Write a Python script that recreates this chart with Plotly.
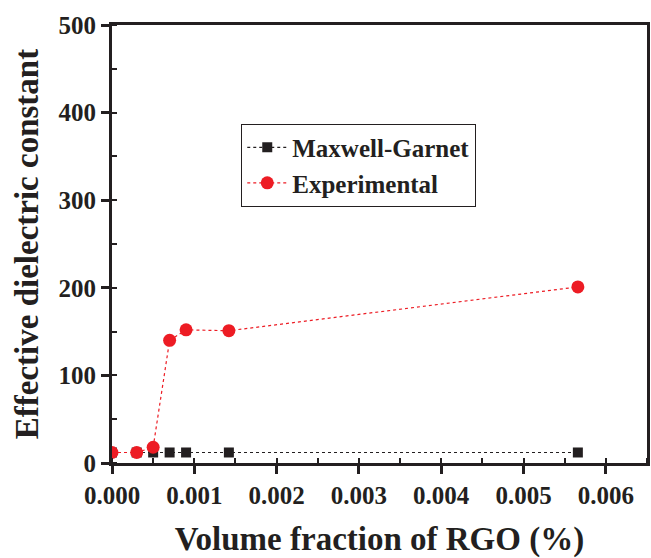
import plotly.graph_objects as go

# Volume fraction of RGO (%) and effective dielectric constant
vol_fraction = [0.0, 0.0003, 0.0005, 0.0007, 0.0009, 0.00142, 0.00566]
maxwell_garnet = [12, 12, 12, 12, 12, 12, 12]
experimental = [12, 12, 18, 140, 152, 151, 201]

x_ticks = [0.0, 0.001, 0.002, 0.003, 0.004, 0.005, 0.006]
x_ticklabels = ["0.000", "0.001", "0.002", "0.003", "0.004", "0.005", "0.006"]
y_ticks = [0, 100, 200, 300, 400, 500]
y_ticklabels = ["0", "100", "200", "300", "400", "500"]

BLACK = "#231f20"
RED = "#ed1c24"
FONT = "Liberation Serif"


def bold(labels):
    return ["<b>%s</b>" % s for s in labels]


fig = go.Figure()
fig.add_trace(go.Scatter(
    x=vol_fraction, y=maxwell_garnet, name="<b>Maxwell-Garnet</b>",
    mode="lines+markers",
    line=dict(color=BLACK, width=1.2, dash="dot"),
    marker=dict(symbol="square", size=10, color=BLACK),
))
fig.add_trace(go.Scatter(
    x=vol_fraction, y=experimental, name="<b>Experimental</b>",
    mode="lines+markers",
    line=dict(color=RED, width=1.2, dash="dot"),
    marker=dict(symbol="circle", size=13, color=RED),
))

axis_common = dict(
    showline=True, linecolor=BLACK, linewidth=3, mirror=True,
    ticks="outside", ticklen=8, tickwidth=2.5, tickcolor=BLACK,
    showgrid=False, zeroline=False,
    tickfont=dict(family=FONT, size=25, color=BLACK),
)

fig.update_layout(
    width=651, height=558,
    margin=dict(l=112, r=1, t=25, b=95),
    paper_bgcolor="white", plot_bgcolor="white",
    font=dict(family=FONT, color=BLACK),
    xaxis=dict(
        range=[0, 0.0065], tickvals=x_ticks, ticktext=bold(x_ticklabels),
        minor=dict(ticks="inside", ticklen=5, tickwidth=1.5,
                   tickcolor=BLACK, dtick=0.0005, tick0=0),
        title=dict(text="<b>Volume fraction of RGO (%)</b>",
                   font=dict(family=FONT, size=33, color=BLACK), standoff=24),
        **axis_common,
    ),
    yaxis=dict(
        range=[0, 500], tickvals=y_ticks, ticktext=bold(y_ticklabels),
        minor=dict(ticks="inside", ticklen=5, tickwidth=1.5,
                   tickcolor=BLACK, dtick=50, tick0=0),
        title=dict(text="<b>Effective dielectric constant</b>",
                   font=dict(family=FONT, size=33, color=BLACK), standoff=10),
        **axis_common,
    ),
    legend=dict(
        x=0.2416, y=0.775, xanchor="left", yanchor="top",
        bgcolor="white", bordercolor=BLACK, borderwidth=1,
        font=dict(family=FONT, size=25, color=BLACK),
        tracegroupgap=0, itemwidth=40,
    ),
    showlegend=True,
)

fig.write_html("out.html")
